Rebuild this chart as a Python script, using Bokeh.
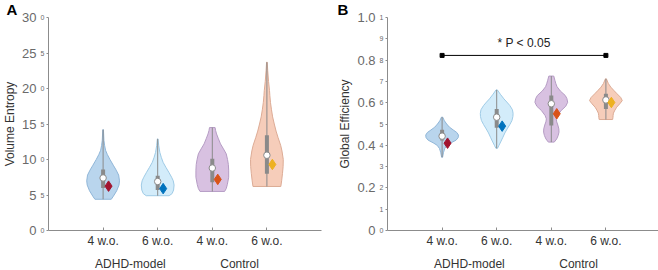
from bokeh.plotting import figure
from bokeh.models import LinearAxis, FixedTicker, Range1d, Label
from bokeh.layouts import row
from bokeh.embed import file_html
from bokeh.resources import INLINE

# ---------------- data ----------------
positions = [1, 2, 3, 4]
age_labels = ["4 w.o.", "6 w.o.", "4 w.o.", "6 w.o."]
group_pos = [1.5, 3.5]
group_labels = ["ADHD-model", "Control"]

fill_colors = ["#b9d5ed", "#d3ecfa", "#d8c1e1", "#f6cdba"]
edge_colors = ["#90b6d8", "#9fcbe6", "#b59cc4", "#dcab95"]
mean_colors = ["#a2142f", "#0072bd", "#d95319", "#edb120"]

# Panel A: Volume Entropy  (violin profiles: values, relative density)
A1_y = [4.4, 4.8, 5.6, 6.4, 7.0, 7.8, 8.5, 9.2, 10.0, 10.7, 11.3, 12.0, 12.7, 14.2]
A1_d = [0.50, 0.62, 0.83, 0.97, 1.0, 0.95, 0.8, 0.62, 0.42, 0.26, 0.15, 0.09, 0.05, 0.02]
A2_y = [4.9, 5.2, 5.7, 6.4, 7.0, 7.5, 8.2, 8.9, 9.6, 10.3, 11.0, 12.0, 12.9]
A2_d = [0.70, 0.88, 0.97, 1.0, 0.95, 0.85, 0.68, 0.5, 0.33, 0.22, 0.13, 0.06, 0.02]
A3_y = [5.5, 5.9, 6.5, 7.5, 8.5, 9.3, 10.0, 10.8, 11.5, 12.2, 13.0, 13.6, 14.1, 14.5]
A3_d = [0.75, 0.85, 0.92, 1.0, 1.0, 0.98, 0.93, 0.85, 0.68, 0.5, 0.36, 0.26, 0.2, 0.17]
A4_y = [6.2, 7.0, 8.0, 9.0, 10.0, 11.2, 12.0, 13.1, 14.0, 15.0, 16.0, 17.0, 18.0, 19.0, 19.7, 21.0, 22.5, 23.7]
A4_d = [0.85, 0.9, 0.95, 0.99, 1.0, 0.92, 0.84, 0.68, 0.56, 0.45, 0.35, 0.28, 0.22, 0.18, 0.16, 0.1, 0.05, 0.02]
A_median = [7.4, 6.9, 8.8, 10.6]
A_mean = [6.25, 5.9, 7.2, 9.3]
A_q1 = [6.0, 5.7, 6.8, 8.0]
A_q3 = [8.6, 7.7, 10.1, 13.4]
A_big_ticks = [0, 5, 10, 15, 20, 25, 30]
A_big_labels = ["0", "5", "10", "15", "20", "25", "30"]
A_small_ticks = [0, 5, 10, 15, 20, 25, 30]
A_small_labels = ["0", "5", "0", "5", "0", "5", "0"]

# Panel B: Global Efficiency
B1_y = [0.344, 0.365, 0.385, 0.40, 0.412, 0.424, 0.436, 0.448, 0.46, 0.472, 0.485, 0.50, 0.515, 0.532]
B1_d = [0.03, 0.08, 0.16, 0.3, 0.55, 0.85, 0.98, 1.0, 0.9, 0.68, 0.45, 0.28, 0.14, 0.04]
B2_y = [0.386, 0.40, 0.42, 0.438, 0.458, 0.477, 0.497, 0.516, 0.535, 0.55, 0.567, 0.587, 0.603, 0.618, 0.64, 0.66]
B2_d = [0.05, 0.14, 0.27, 0.38, 0.5, 0.64, 0.8, 0.93, 0.99, 1.0, 0.96, 0.8, 0.62, 0.44, 0.22, 0.04]
B3_y = [0.415, 0.43, 0.446, 0.462, 0.477, 0.495, 0.51, 0.524, 0.54, 0.563, 0.583, 0.602, 0.62, 0.634, 0.655, 0.675, 0.689, 0.705, 0.725]
B3_d = [0.18, 0.33, 0.42, 0.47, 0.46, 0.4, 0.33, 0.3, 0.38, 0.6, 0.88, 1.0, 0.95, 0.85, 0.55, 0.35, 0.28, 0.22, 0.15]
B4_y = [0.521, 0.53, 0.54, 0.551, 0.565, 0.579, 0.595, 0.61, 0.625, 0.642, 0.658, 0.673, 0.69, 0.712]
B4_d = [0.41, 0.43, 0.44, 0.46, 0.55, 0.66, 0.85, 1.0, 0.9, 0.68, 0.48, 0.3, 0.15, 0.03]
B_median = [0.443, 0.532, 0.595, 0.613]
B_mean = [0.41, 0.49, 0.548, 0.601]
B_q1 = [0.423, 0.482, 0.493, 0.571]
B_q3 = [0.473, 0.571, 0.634, 0.642]
B_big_ticks = [0.0, 0.2, 0.4, 0.6, 0.8, 1.0]
B_big_labels = ["0", "0.2", "0.4", "0.6", "0.8", "1.0"]
B_small_ticks = [0.0, 0.1, 0.2, 0.3, 0.4, 0.5, 0.6, 0.7, 0.8, 0.9, 1.0]
B_small_labels = ["0", "1", "2", "3", "4", "5", "6", "7", "8", "9", "1"]

sig_x = [1, 4]
sig_y = 0.822
sig_text = "* P < 0.05"

FONT = "Liberation Sans"
AXIS_COLOR = "#8c8c8c"
PX_PER_UNIT = 54.6
FRAME_TOP = 17
FRAME_H = 213


def make_panel(profiles, medians, means, q1s, q3s, ymax, big_ticks, big_labels,
               small_ticks, small_labels, ylabel, letter, xmax, left, right, frame_w, letter_px):
    p = figure(frame_width=frame_w, frame_height=FRAME_H,
               x_range=Range1d(0, xmax), y_range=Range1d(0, ymax),
               output_backend="svg", toolbar_location=None,
               x_axis_location=None, y_axis_location=None,
               min_border_left=left, min_border_right=right,
               min_border_top=FRAME_TOP, min_border_bottom=40)
    p.grid.grid_line_color = None
    p.outline_line_color = None
    p.background_fill_color = "white"
    p.border_fill_color = "white"

    # inner y axis (small labels)
    ay_in = LinearAxis(ticker=FixedTicker(ticks=small_ticks),
                       major_label_overrides={t: l for t, l in zip(small_ticks, small_labels)},
                       major_label_text_font_size="7px", major_label_text_color="#6a6a6a",
                       major_label_text_font=FONT,
                       major_tick_out=2, major_tick_in=0, minor_tick_out=0, minor_tick_in=0,
                       major_tick_line_color=AXIS_COLOR, axis_line_color=AXIS_COLOR,
                       major_label_standoff=2)
    p.add_layout(ay_in, "left")
    # outer y axis (big labels + title)
    ay_out = LinearAxis(ticker=FixedTicker(ticks=big_ticks),
                        major_label_overrides={t: l for t, l in zip(big_ticks, big_labels)},
                        major_label_text_font_size="13px", major_label_text_color="#6a6a6a",
                        major_label_text_font=FONT,
                        axis_line_color=None, major_tick_line_color=None, minor_tick_line_color=None,
                        major_tick_out=0, major_tick_in=0, minor_tick_out=0, minor_tick_in=0,
                        major_label_standoff=1,
                        axis_label=ylabel, axis_label_standoff=2,
                        axis_label_text_font_size="12px", axis_label_text_font_style="normal",
                        axis_label_text_font=FONT, axis_label_text_color="#333333")
    p.add_layout(ay_out, "left")

    ax_in = LinearAxis(ticker=FixedTicker(ticks=positions),
                       major_label_overrides={t: l for t, l in zip(positions, age_labels)},
                       major_label_text_font_size="12px", major_label_text_color="#333333",
                       major_label_text_font=FONT,
                       major_tick_in=3, major_tick_out=0, minor_tick_in=0, minor_tick_out=0,
                       major_tick_line_color=AXIS_COLOR, axis_line_color=AXIS_COLOR,
                       major_label_standoff=3)
    p.add_layout(ax_in, "below")
    ax_out = LinearAxis(ticker=FixedTicker(ticks=group_pos),
                        major_label_overrides={t: l for t, l in zip(group_pos, group_labels)},
                        major_label_text_font_size="12px", major_label_text_color="#333333",
                        major_label_text_font=FONT,
                        axis_line_color=None, major_tick_line_color=None, minor_tick_line_color=None,
                        major_tick_in=0, major_tick_out=0, minor_tick_in=0, minor_tick_out=0,
                        major_label_standoff=6)
    p.add_layout(ax_out, "below")

    half = 0.3
    for i, (ys, ds) in enumerate(profiles):
        c = positions[i]
        xs = [c + half * d for d in ds] + [c - half * d for d in reversed(ds)]
        yy = list(ys) + list(reversed(ys))
        p.patch(xs, yy, fill_color=fill_colors[i], line_color=edge_colors[i], line_width=1)
        # whisker
        p.segment(x0=[c], y0=[min(ys)], x1=[c], y1=[max(ys)], line_color="#8a8a8a", line_width=1)
        # box
        p.segment(x0=[c], y0=[q1s[i]], x1=[c], y1=[q3s[i]], line_color="#8a8a8a", line_width=4)
        # median
        p.scatter([c], [medians[i]], marker="circle", size=6.5, fill_color="white",
                  line_color="#8a8a8a", line_width=1)
        # mean
        p.scatter([c + 0.1], [means[i]], marker="diamond", size=10.5, fill_color=mean_colors[i],
                  line_color=mean_colors[i])

    # panel letter, placed in the top border panel so it is not clipped by the frame
    lx = -(left - letter_px) / PX_PER_UNIT
    ly = ymax + FRAME_TOP * ymax / float(FRAME_H)
    p.add_layout(Label(x=lx, y=ly, text=letter, text_font_size="15px", text_font_style="bold",
                       text_font=FONT, text_color="black", text_baseline="top", text_align="left"),
                 "above")
    return p


pA = make_panel([(A1_y, A1_d), (A2_y, A2_d), (A3_y, A3_d), (A4_y, A4_d)],
                A_median, A_mean, A_q1, A_q3, 30, A_big_ticks, A_big_labels,
                A_small_ticks, A_small_labels, "Volume Entropy", "A", 5.0, 45, 9, 273, 3)

pB = make_panel([(B1_y, B1_d), (B2_y, B2_d), (B3_y, B3_d), (B4_y, B4_d)],
                B_median, B_mean, B_q1, B_q3, 1.0, B_big_ticks, B_big_labels,
                B_small_ticks, B_small_labels, "Global Efficiency", "B", 272 / PX_PER_UNIT, 57, 2, 272, 7)

pB.line(sig_x, [sig_y, sig_y], line_color="black", line_width=1)
pB.scatter(sig_x, [sig_y, sig_y], marker="square", size=4, fill_color="black", line_color="black")
pB.add_layout(Label(x=sum(sig_x) / 2, y=sig_y + 0.056, text=sig_text, text_font_size="12px",
                    text_font=FONT, text_color="#222222", text_align="center", text_baseline="middle"))

layout = row(pA, pB)
open("out.html", "w").write(file_html(layout, INLINE))
